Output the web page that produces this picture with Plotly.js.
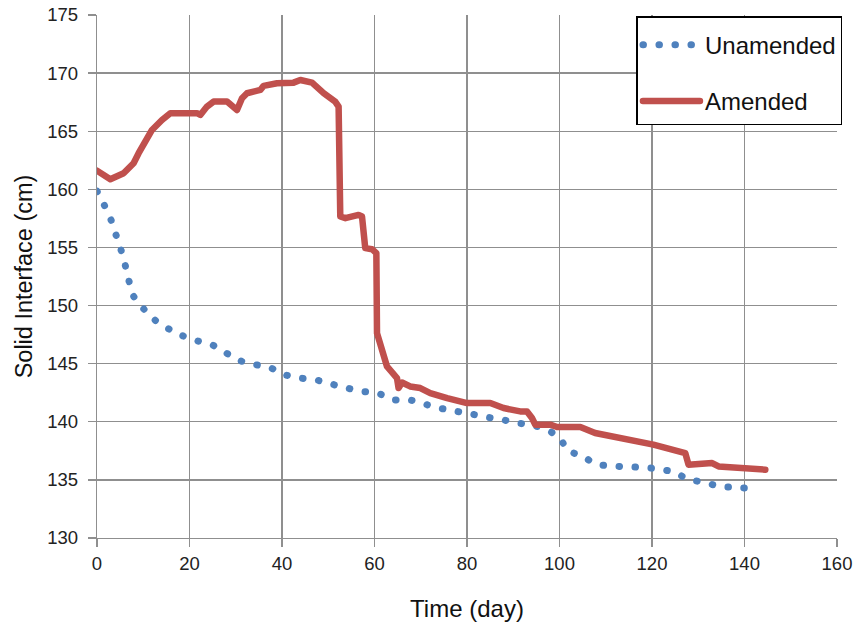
<!DOCTYPE html>
<html>
<head>
<meta charset="utf-8">
<script src="https://cdn.plot.ly/plotly-3.0.1.min.js"></script>
<style>
  html, body { margin: 0; padding: 0; background: #fff; }
  #chart { width: 857px; height: 625px; }
  .scatterlayer .js-line, .legend .js-line { stroke-linecap: round; stroke-linejoin: round; }
</style>
</head>
<body>
<div id="chart"></div>
<script>
// Unamended series (time in days, solid interface in cm)
const unamendedDay = [0, 1.58, 3.03, 4.11, 5.19, 6.12, 6.92, 7.91, 10.08, 12.54, 15.48, 18.38, 21.62, 24.86, 27.74, 30.83, 34.08, 37.46, 40.56, 43.96, 47.2, 50.66, 54.05, 57.3, 60.67, 64.0, 67.37, 70.6, 74.0, 77.47, 80.7, 84.17, 87.6, 90.94, 94.4, 97.2, 100.0, 101.75, 104.86, 107.74, 111.14, 114.6, 118.2, 121.4, 124.9, 127.9, 131.0, 134.6, 138.1, 141.4];
const unamendedCm = [159.84, 158.64, 157.37, 156.08, 154.79, 153.44, 152.1, 150.81, 149.72, 148.75, 148.0, 147.42, 146.97, 146.62, 145.96, 145.27, 144.93, 144.65, 144.05, 143.76, 143.62, 143.25, 142.9, 142.61, 142.47, 141.9, 141.9, 141.55, 141.18, 140.92, 140.69, 140.41, 140.18, 139.89, 139.69, 139.3, 138.69, 137.51, 137.08, 136.37, 136.2, 136.13, 136.07, 135.94, 135.65, 135.02, 134.82, 134.44, 134.35, 134.27];

// Amended series
const amendedDay = [0, 2.88, 5.75, 7.91, 9.0, 9.36, 10.44, 11.89, 14.05, 15.85, 21.62, 22.34, 23.78, 25.21, 28.11, 30.27, 31.35, 32.43, 35.31, 36.02, 38.92, 42.5, 43.96, 46.49, 49.0, 51.5, 52.24, 52.6, 53.7, 56.56, 57.3, 58.0, 59.46, 60.4, 60.54, 61.6, 62.7, 64.86, 65.2, 65.95, 67.7, 69.9, 72.06, 75.7, 80.0, 85.04, 87.9, 91.5, 92.97, 94.05, 94.77, 98.0, 99.46, 104.5, 107.7, 120.3, 126.1, 127.2, 127.9, 133.0, 134.4, 139.1, 144.5];
const amendedCm = [161.6, 160.87, 161.39, 162.25, 163.11, 163.39, 163.97, 165.11, 165.97, 166.55, 166.55, 166.4, 167.12, 167.55, 167.55, 166.83, 167.84, 168.27, 168.55, 168.9, 169.13, 169.18, 169.41, 169.18, 168.27, 167.55, 167.12, 157.66, 157.52, 157.8, 157.66, 154.94, 154.85, 154.51, 147.63, 146.2, 144.76, 143.76, 142.9, 143.38, 143.04, 142.9, 142.47, 142.04, 141.61, 141.61, 141.18, 140.89, 140.89, 140.32, 139.75, 139.75, 139.55, 139.55, 139.03, 138.03, 137.45, 137.31, 136.31, 136.45, 136.16, 136.02, 135.88];

const xTicks = [0, 20, 40, 60, 80, 100, 120, 140, 160];
const yTicks = [130, 135, 140, 145, 150, 155, 160, 165, 170, 175];

const traces = [
  {
    x: unamendedDay, y: unamendedCm, name: 'Unamended', mode: 'lines',
    legendgroup: 'a',
    line: { color: '#4F81BD', width: 7, dash: '0.5px,15.5px', shape: 'spline', smoothing: 0.6 }
  },
  {
    x: amendedDay, y: amendedCm, name: 'Amended', mode: 'lines',
    legendgroup: 'b',
    line: { color: '#C0504D', width: 6.5 }
  }
];

const gridCol = '#8f8f8f';
const layout = {
  width: 857, height: 625,
  margin: { l: 96.7, r: 20.3, t: 15, b: 86.7 },
  paper_bgcolor: '#fff', plot_bgcolor: '#fff',
  font: { family: 'Liberation Sans, Arial, sans-serif', color: '#222' },
  showlegend: true,
  legend: {
    x: 0.729, xanchor: 'left', y: 0.998, yanchor: 'top',
    bgcolor: '#fff', bordercolor: '#000', borderwidth: 1.5,
    font: { size: 24, color: '#111' },
    title: { text: ' ', font: { size: 4 } },
    traceorder: 'grouped', tracegroupgap: 22, itemwidth: 57
  },
  xaxis: {
    range: [0, 160], tickvals: xTicks, ticktext: xTicks.map(String),
    showgrid: true, gridcolor: gridCol, gridwidth: 1.3,
    showline: true, linecolor: gridCol, linewidth: 1.3,
    ticks: 'outside', ticklen: 8, tickcolor: gridCol, tickwidth: 1.3,
    tickfont: { size: 18.5, color: '#222' },
    zeroline: false,
    title: { text: 'Time (day)', font: { size: 24, color: '#111' }, standoff: 27 }
  },
  yaxis: {
    range: [130, 175], tickvals: yTicks, ticktext: yTicks.map(String),
    showgrid: true, gridcolor: gridCol, gridwidth: 1.3,
    showline: true, linecolor: gridCol, linewidth: 1.3,
    ticks: 'outside', ticklen: 8, tickcolor: gridCol, tickwidth: 1.3,
    tickfont: { size: 18.5, color: '#222' },
    ticklabelstandoff: 6,
    zeroline: false,
    title: { text: 'Solid Interface (cm)', font: { size: 23.5, color: '#111' }, standoff: 8 }
  }
};

Plotly.newPlot('chart', traces, layout, { displayModeBar: false, staticPlot: true });
</script>
</body>
</html>
